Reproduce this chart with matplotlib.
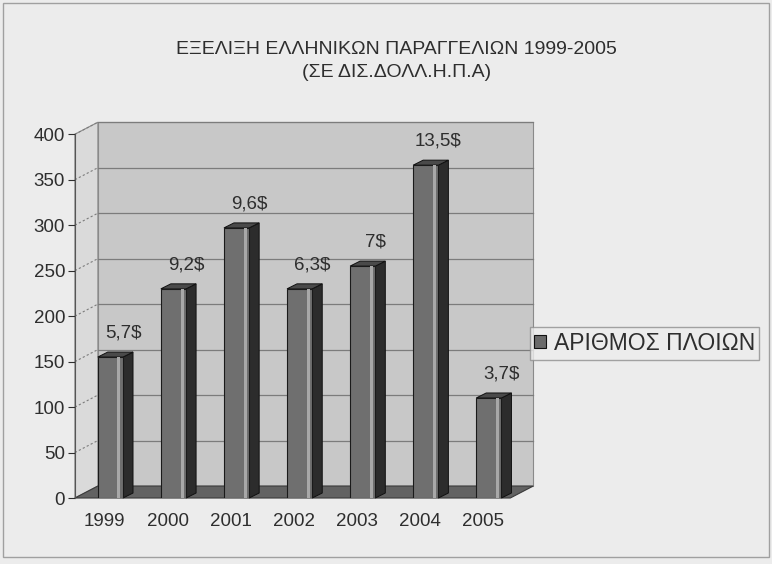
import matplotlib
matplotlib.use("Agg")
import matplotlib.pyplot as plt
from matplotlib.patches import Rectangle, Polygon
from matplotlib.lines import Line2D
from matplotlib.transforms import IdentityTransform

years = ["1999", "2000", "2001", "2002", "2003", "2004", "2005"]
ships = [155, 230, 297, 230, 255, 366, 110]
labels = ["5,7$", "9,2$", "9,6$", "6,3$", "7$", "13,5$", "3,7$"]
yticks = [0, 50, 100, 150, 200, 250, 300, 350, 400]
title = "ΕΞΕΛΙΞΗ ΕΛΛΗΝΙΚΩΝ ΠΑΡΑΓΓΕΛΙΩΝ 1999-2005\n(ΣΕ ΔΙΣ.ΔΟΛΛ.Η.Π.Α)"
legend_label = "ΑΡΙΘΜΟΣ ΠΛΟΙΩΝ"

plt.rcParams['font.family'] = ['Liberation Sans', 'DejaVu Sans']
TXT = '#2e2e2e'

fig = plt.figure(figsize=(7.72, 5.64), dpi=100, facecolor='#ececec')
fig.patches.append(Rectangle((0.004, 0.012), 0.992, 0.982, transform=fig.transFigure,
                             fill=False, edgecolor='#a0a0a0', linewidth=1.0))

ax = fig.add_axes([0.097, 0.117, 0.564, 0.645])
ax.set_facecolor('none')
x = list(range(len(years)))
ax.set_ylim(0, 400)
ax.set_xlim(-0.563, 6.34)

# depth offsets (pixels) for the 3D look
WDX, WDY = 23, 12     # back wall
BDX, BDY = 10, 5      # bar depth
ID = IdentityTransform()
T = ax.transData.transform
(ax0, ay0), (ax1, ay1) = T((-0.563, 0)), T((6.34, 400))

def poly(pts, **kw):
    p = Polygon(pts, closed=True, transform=ID, clip_on=False, **kw)
    ax.add_artist(p)
    return p

def line(xs, ys, **kw):
    l = Line2D(xs, ys, transform=ID, clip_on=False, **kw)
    ax.add_artist(l)

# back wall, side wall, floor
poly([(ax0 + WDX, ay0 + WDY), (ax1 + WDX, ay0 + WDY), (ax1 + WDX, ay1 + WDY), (ax0 + WDX, ay1 + WDY)],
     facecolor='#c8c8c8', edgecolor='#8a8a8a', linewidth=0.8, zorder=0.1)
poly([(ax0, ay0), (ax0 + WDX, ay0 + WDY), (ax0 + WDX, ay1 + WDY), (ax0, ay1)],
     facecolor='#dadada', edgecolor='#8a8a8a', linewidth=0.8, zorder=0.2)
poly([(ax0, ay0), (ax1, ay0), (ax1 + WDX, ay0 + WDY), (ax0 + WDX, ay0 + WDY)],
     facecolor='#626262', edgecolor='#3a3a3a', linewidth=0.8, zorder=0.3)
# gridlines on back wall and side wall
for t in yticks[1:]:
    _, py = T((0, t))
    line([ax0 + WDX, ax1 + WDX], [py + WDY, py + WDY], color='#7c7c7c', linewidth=0.9, zorder=0.25)
    line([ax0, ax0 + WDX], [py, py + WDY], color='#7c7c7c', linewidth=0.8,
         linestyle=(0, (2, 2)), zorder=0.25)

# bars (front faces) + side/top faces
bars = ax.bar(x, ships, width=0.40, color='#6f6f6f', edgecolor='#1a1a1a',
              linewidth=0.8, zorder=3, label=legend_label)
for b in bars:
    (bx0, by0) = T((b.get_x(), 0))
    (bx1, by1) = T((b.get_x() + b.get_width(), b.get_height()))
    poly([(bx1, by0), (bx1 + BDX, by0 + BDY), (bx1 + BDX, by1 + BDY), (bx1, by1)],
         facecolor='#2c2c2c', edgecolor='#111111', linewidth=0.7, zorder=2.5)
    poly([(bx0, by1), (bx1, by1), (bx1 + BDX, by1 + BDY), (bx0 + BDX, by1 + BDY)],
         facecolor='#4a4a4a', edgecolor='#111111', linewidth=0.7, zorder=2.6)
    # light highlight strip on right of front face
    hx = b.get_x() + b.get_width() * 0.78
    ax.add_patch(Rectangle((hx, 0), b.get_width() * 0.12, b.get_height(),
                           facecolor='#a8a8a8', edgecolor='none', zorder=3.1))

for xi, v, lab in zip(x, ships, labels):
    ax.text(xi + 0.2, v + 17, lab, ha='center', va='bottom', fontsize=13.5, color=TXT, zorder=4)

ax.set_yticks(yticks)
ax.set_xticks([xi - 0.09 for xi in x])
ax.set_xticklabels(years)
ax.tick_params(axis='both', labelsize=13.5, colors=TXT, length=5, width=0.8)
ax.tick_params(axis='x', length=0, pad=11)
ax.tick_params(axis='y', pad=2)
for s in ['top', 'right', 'bottom']:
    ax.spines[s].set_visible(False)
ax.spines['left'].set_color('#555555')
ax.spines['left'].set_zorder(5)

fig.text(0.514, 0.892, title, ha='center', va='center', fontsize=14,
         color=TXT, linespacing=1.45)

proxy = Rectangle((0, 0), 1, 1, facecolor='#6a6a6a', edgecolor='#111111', linewidth=0.8)
leg = fig.legend(handles=[proxy], labels=[legend_label], loc='center left',
                 bbox_to_anchor=(0.686, 0.391), fontsize=16.5, frameon=True,
                 handlelength=0.5, handleheight=0.5, handletextpad=0.35,
                 borderpad=0.2, borderaxespad=0, fancybox=False)
leg.get_frame().set_edgecolor('#8f8f8f')
leg.get_frame().set_facecolor('#ececec')
for t in leg.get_texts():
    t.set_color(TXT)

fig.savefig('out.png', dpi=100, facecolor=fig.get_facecolor())
